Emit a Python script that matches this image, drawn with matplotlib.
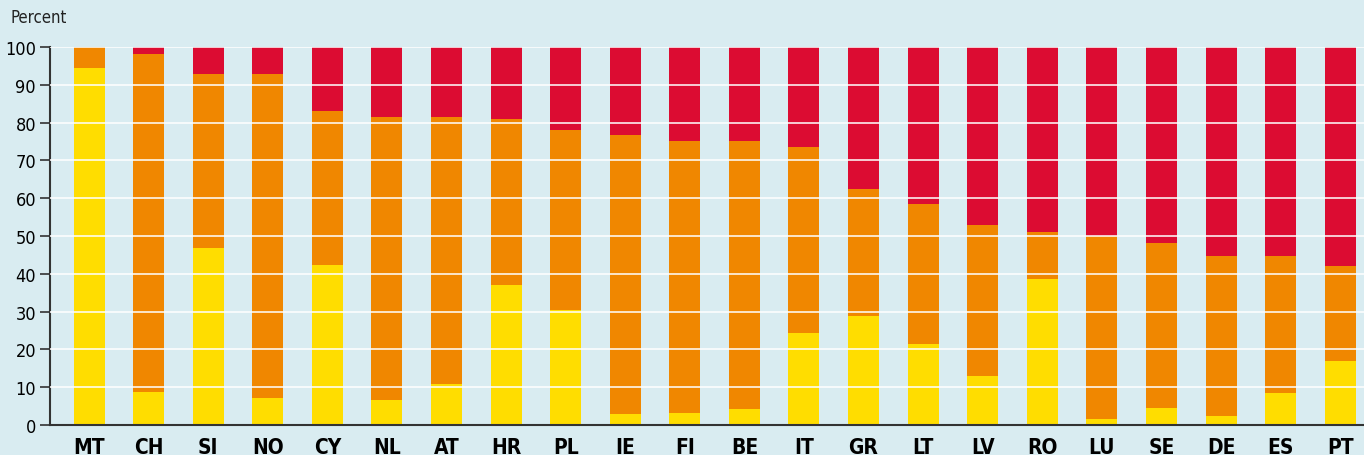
import matplotlib.pyplot as plt
import numpy as np

countries = ["MT", "CH", "SI", "NO", "CY", "NL", "AT", "HR", "PL", "IE", "FI",
             "BE", "IT", "GR", "LT", "LV", "RO", "LU", "SE", "DE", "ES", "PT"]
yellow = np.array([94.5, 8.7, 46.8, 7.2, 42.3, 6.6, 10.8, 37.0, 30.4, 2.9, 3.2,
                   4.2, 24.3, 28.8, 21.4, 13.0, 38.6, 1.6, 4.5, 2.4, 8.5, 17.0])
orange = np.array([5.5, 89.4, 46.1, 85.7, 40.8, 74.9, 70.7, 44.0, 47.6, 73.8, 71.9,
                   70.9, 49.2, 33.6, 37.1, 39.9, 12.5, 48.4, 43.6, 42.3, 36.2, 25.1])
red = 100 - yellow - orange

c_yellow = "#FFDD00"
c_orange = "#F08700"
c_red = "#DC0C32"
bg = "#D9ECF1"

plt.rcParams['font.family'] = ['DejaVu Sans']
plt.rcParams['font.stretch'] = 'condensed'

fig = plt.figure(figsize=(13.64, 4.56), dpi=100, facecolor=bg)
ax = fig.add_axes([50/1364, 1 - 426/456, 1 - 50/1364, (426 - 48)/456])
ax.set_facecolor(bg)

x = np.arange(len(countries))
w = 0.52
ax.bar(x, yellow, w, color=c_yellow, zorder=2)
ax.bar(x, orange, w, bottom=yellow, color=c_orange, zorder=2)
ax.bar(x, red, w, bottom=yellow + orange, color=c_red, zorder=2)

for y in range(10, 101, 10):
    ax.axhline(y, color="white", lw=1.3, alpha=0.85, zorder=3)

ax.set_xlim(-0.655, len(countries) - 0.6)
ax.set_ylim(0, 100)
ax.set_yticks(range(0, 101, 10))
ax.set_xticks(x)
ax.set_xticklabels(countries, fontsize=15, fontweight="bold")
ax.tick_params(axis="x", length=0, pad=9)
ax.tick_params(axis="y", length=7, width=1.2, color="#333333", labelsize=13, pad=3)

for s in ["top", "right"]:
    ax.spines[s].set_visible(False)
ax.spines["left"].set_color("#333333")
ax.spines["left"].set_linewidth(1.5)
ax.spines["bottom"].set_color("#333333")
ax.spines["bottom"].set_linewidth(1.5)
ax.spines["bottom"].set_zorder(4)

fig.text(10/1364, 1 - 18/456, "Percent", fontsize=12, va="center", ha="left", color="#222222")

fig.savefig("out.png", dpi=100, facecolor=bg)
